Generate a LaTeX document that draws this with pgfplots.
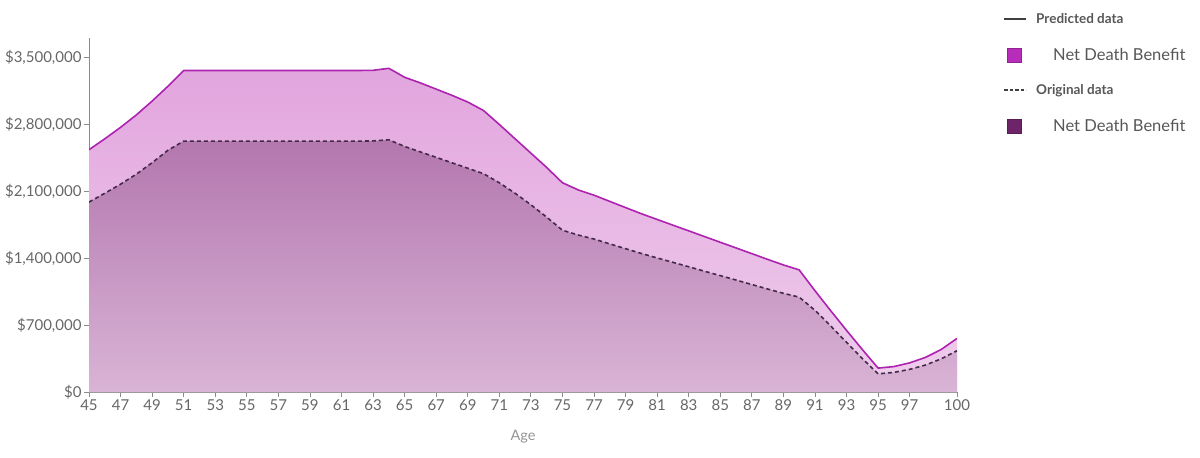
\documentclass[border=0pt]{standalone}
\usepackage{fontspec}
\setmainfont{Lato}
\usepackage{pgfplots}
\usepackage{pgfplotstable}
\pgfplotsset{compat=1.18}

\definecolor{predline}{HTML}{AD22B0}
\definecolor{predtop}{HTML}{E2A5DE}
\definecolor{predbot}{HTML}{EFCEEC}
\definecolor{origline}{HTML}{45294A}
\definecolor{origtop}{HTML}{B377AE}
\definecolor{origbot}{HTML}{D9B4D6}
\definecolor{predsq}{HTML}{B72CB8}
\definecolor{origsq}{HTML}{6E2468}
\definecolor{axisgray}{HTML}{8C8C8C}
\definecolor{ticktext}{HTML}{666666}

% age, predicted and original net death benefit
\pgfplotstableread{
age pred orig
45 2536000 1988000
46 2650000 2080000
47 2770000 2175000
48 2900000 2280000
49 3045000 2400000
50 3200000 2530000
51 3365000 2626000
52 3365000 2626000
53 3365000 2626000
54 3365000 2626000
55 3365000 2626000
56 3365000 2626000
57 3365000 2626000
58 3365000 2626000
59 3365000 2626000
60 3365000 2626000
61 3365000 2626000
62 3365000 2626000
63 3367000 2628000
64 3388000 2640000
65 3294000 2570000
66 3235000 2513000
67 3170000 2456000
68 3105000 2399000
69 3035000 2342000
70 2946000 2285000
71 2800000 2190000
72 2650000 2080000
73 2500000 1960000
74 2350000 1830000
75 2190000 1693000
76 2115000 1643000
77 2060000 1601000
78 1995000 1550000
79 1930000 1500000
80 1866000 1450000
81 1806000 1403000
82 1746000 1357000
83 1687000 1311000
84 1627000 1264000
85 1567000 1218000
86 1508000 1172000
87 1448000 1125000
88 1388000 1078000
89 1330000 1033000
90 1278000 993000
91 1060000 855000
92 850000 690000
93 645000 520000
94 445000 350000
95 250000 190000
96 266000 205000
97 305000 237000
98 362000 282000
99 445000 347000
100 561000 432000
}\benefit

\begin{document}
\begin{tikzpicture}
\useasboundingbox (0,0) rectangle (1200pt,458pt);
\begin{axis}[
    at={(89pt,66pt)}, anchor=south west,
    scale only axis,
    width=868pt, height=353.5pt,
    xmin=45, xmax=100,
    ymin=0, ymax=3700000,
    axis lines=left,
    axis line style={-, draw=axisgray, line width=1pt},
    tick align=outside,
    major tick length=5pt,
    tick style={draw=axisgray, line width=0.8pt},
    xtick={45,47,...,97,100},
    ytick={0,700000,1400000,2100000,2800000,3500000},
    yticklabels={\$0,{\$700,000},{\$1,400,000},{\$2,100,000},{\$2,800,000},{\$3,500,000}},
    scaled y ticks=false,
    /pgf/number format/assume math mode=true,
    ticklabel style={font=\fontsize{15}{17}\selectfont, text=ticktext},
    xticklabel style={yshift=1pt},
    yticklabel style={xshift=1pt},
    xlabel={Age},
    xlabel style={font=\fontsize{14.5}{16}\selectfont, text=ticktext!70, yshift=-13pt},
    legend style={at={(1.053,1.077)}, anchor=north west, draw=none, fill=none,
        inner sep=0pt, row sep=19pt, font=\fontsize{16.5}{19}\selectfont,
        text=ticktext!85!black},
    legend cell align=left,
]
% legend entries
\addlegendimage{legend image code/.code={\draw[line width=2pt, draw=darkgray] (0pt,0pt) -- (22pt,0pt);}}
\addlegendentry{\hspace{7pt}\fontsize{13.5}{15}\selectfont\bfseries Predicted data}
\addlegendimage{legend image code/.code={\draw[fill=predsq, draw=predsq!80!black, line width=0.4pt] (3pt,-7pt) rectangle (17pt,7pt);}}
\addlegendentry{\hspace{24pt}Net Death Benefit}
\addlegendimage{legend image code/.code={\draw[line width=2pt, draw=darkgray, dash pattern=on 3.5pt off 2pt] (0pt,0pt) -- (22pt,0pt);}}
\addlegendentry{\hspace{7pt}\fontsize{13.5}{15}\selectfont\bfseries Original data}
\addlegendimage{legend image code/.code={\draw[fill=origsq, draw=origsq!80!black, line width=0.4pt] (3pt,-7pt) rectangle (17pt,7pt);}}
\addlegendentry{\hspace{24pt}Net Death Benefit}

% predicted area
\addplot[forget plot, draw=none, top color=predtop, bottom color=predbot]
    table[x=age, y=pred] {\benefit} \closedcycle;
% original area
\addplot[forget plot, draw=none, top color=origtop, bottom color=origbot]
    table[x=age, y=orig] {\benefit} \closedcycle;
% lines on top
\addplot[forget plot, draw=predline, line width=1.6pt, line join=round]
    table[x=age, y=pred] {\benefit};
\addplot[forget plot, draw=origline, line width=1.6pt, dash pattern=on 4pt off 3pt]
    table[x=age, y=orig] {\benefit};
\end{axis}
\end{tikzpicture}
\end{document}
